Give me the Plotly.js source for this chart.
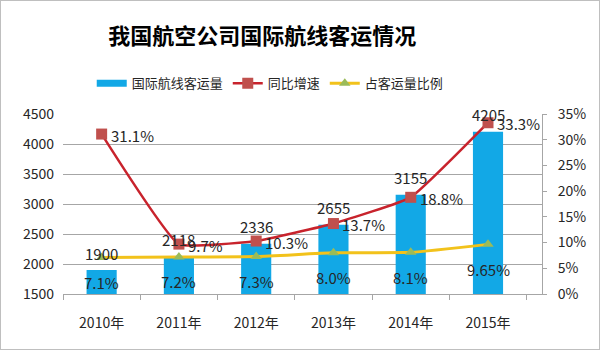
<!DOCTYPE html>
<html>
<head>
<meta charset="utf-8">
<script src="https://cdn.plot.ly/plotly-3.0.1.min.js"></script>
<style>
body{margin:0;padding:0;background:#fff;}
#wrap{position:relative;width:600px;height:350px;}
#chart{width:600px;height:350px;}
#frame{position:absolute;left:0;top:0;width:600px;height:350px;box-sizing:border-box;border:1px solid #BFBFBF;pointer-events:none;}
</style>
</head>
<body>
<div id="wrap"><div id="chart"></div><div id="frame"></div></div>
<script>
const categories = ['2010年','2011年','2012年','2013年','2014年','2015年'];
const passengers = [1900, 2118, 2336, 2655, 3155, 4205];
const growth = [0.311, 0.097, 0.103, 0.137, 0.188, 0.333];
const growthLabels = ['31.1%','9.7%','10.3%','13.7%','18.8%','33.3%'];
const share = [0.071, 0.072, 0.073, 0.080, 0.081, 0.0965];
const shareLabels = ['7.1%','7.2%','7.3%','8.0%','8.1%','9.65%'];

const font = '"Noto Sans CJK SC", "Noto Sans", sans-serif';
const textColor = '#262626';
const barColor = '#12A8E6';

const traces = [
  {type:'bar', name:'国际航线客运量', x:categories, y:passengers,
   marker:{color:barColor}, width:0.39, yaxis:'y', showlegend:false},
  {type:'scatter', mode:'lines', name:'国际航线客运量', x:[categories[0]], y:[null],
   yaxis:'y', line:{color:barColor, width:7}, showlegend:true, hoverinfo:'skip'},
  {type:'scatter', mode:'lines+markers', name:'同比增速', x:categories, y:growth,
   yaxis:'y2', line:{color:'#C8232C', width:2.5, shape:'spline', smoothing:0.35},
   marker:{symbol:'square', size:11, color:'#C0504D'}},
  {type:'scatter', mode:'lines+markers', name:'占客运量比例', x:categories, y:share,
   yaxis:'y2', line:{color:'#F2C21B', width:3, shape:'spline', smoothing:0.5},
   marker:{symbol:'triangle-up', size:10, color:'#9BBB59'}}
];

const annotations = [];
categories.forEach((c,i)=>{
  annotations.push({x:c, y:passengers[i], xref:'x', yref:'y', text:String(passengers[i]),
    showarrow:false, yshift:17, font:{size:15, color:textColor, family:font}});
  annotations.push({x:c, y:growth[i], xref:'x', yref:'y2', text:growthLabels[i],
    showarrow:false, xanchor:'left', xshift:7, yshift:-1, font:{size:15, color:textColor, family:font}});
  annotations.push({x:c, y:share[i], xref:'x', yref:'y2', text:shareLabels[i],
    showarrow:false, yshift:-25, font:{size:15, color:textColor, family:font}});
});

const layout = {
  width:600, height:350,
  margin:{l:63, r:58, t:114, b:56},
  paper_bgcolor:'#fff', plot_bgcolor:'#fff',
  font:{family:font, color:textColor, size:14},
  title:{text:'<b>我国航空公司国际航线客运情况</b>', x:0.437, xanchor:'center', y:0.895, yanchor:'middle',
    font:{size:22, color:'#000', family:font}},
  showlegend:true,
  legend:{orientation:'h', x:0.06, xanchor:'left', y:1.17, yanchor:'middle',
    font:{size:13, color:textColor, family:font}, itemwidth:30, traceorder:'normal'},
  xaxis:{type:'category', showgrid:false, showline:true, linecolor:'#A6A6A6', linewidth:1,
    ticks:'outside', tickson:'boundaries', ticklen:5, tickcolor:'#A6A6A6',
    ticklabelstandoff:16, tickfont:{size:14, color:textColor}},
  yaxis:{range:[1500,4500], dtick:500, showgrid:true, gridcolor:'#A6A6A6', gridwidth:1,
    showline:false, zeroline:false, tickfont:{size:14, color:textColor}, ticklen:0,
    ticklabelstandoff:8},
  yaxis2:{range:[0,0.35], dtick:0.05, tickformat:'.0%', overlaying:'y', side:'right',
    showgrid:false, zeroline:false, showline:true, linecolor:'#A6A6A6', linewidth:1,
    ticks:'outside', ticklen:4, tickcolor:'#A6A6A6', ticklabelstandoff:8,
    tickfont:{size:14, color:textColor}},
  bargap:0.61,
  annotations:annotations
};

Plotly.newPlot('chart', traces, layout, {displayModeBar:false, staticPlot:true});
</script>
</body>
</html>
